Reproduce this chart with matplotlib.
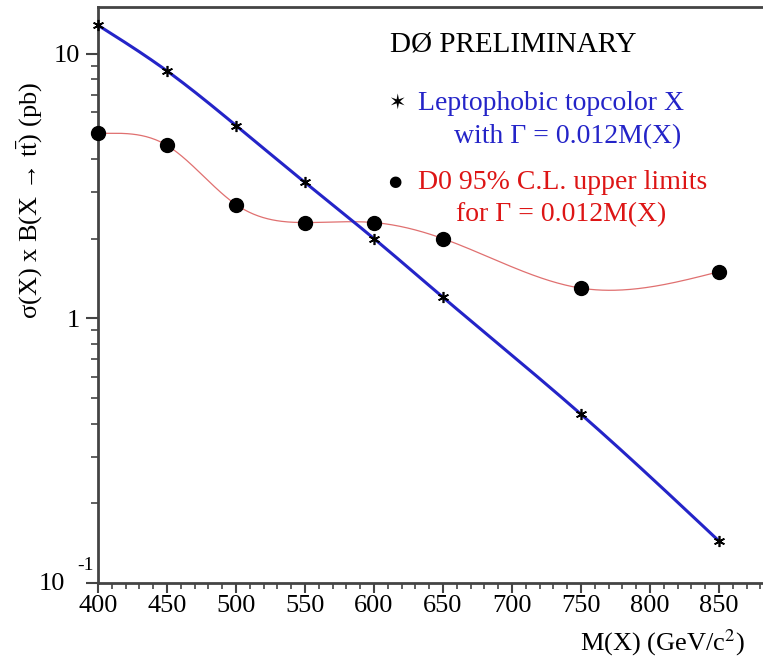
import matplotlib
matplotlib.use("Agg")
import matplotlib.pyplot as plt
import numpy as np
from matplotlib.ticker import FixedLocator, MultipleLocator, NullFormatter

plt.rcParams['font.family'] = ['Liberation Serif', 'DejaVu Serif']
plt.rcParams['mathtext.fontset'] = 'stix'

# data
masses = [400, 450, 500, 550, 600, 650, 750, 850]
topcolor_xsec = [12.8, 8.6, 5.35, 3.26, 2.0, 1.2, 0.434, 0.144]
limit_masses = [400, 450, 500, 550, 600, 650, 750, 850]
limit_xsec = [5.0, 4.5, 2.69, 2.30, 2.30, 2.0, 1.30, 1.50]
ytick_vals = [0.1, 1, 10]
ytick_labels = ['', '1', '10']

BLUE = '#2424c8'
RED = '#dd1515'


def spline(x, y, n=400, start_slope=None):
	# cubic spline (natural, optionally clamped at the start) in log space
	x = np.asarray(x, float)
	y = np.log10(np.asarray(y, float))
	m = len(x)
	h = np.diff(x)
	A = np.zeros((m, m))
	b = np.zeros(m)
	if start_slope is None:
		A[0, 0] = 1
	else:
		A[0, 0] = 2*h[0]
		A[0, 1] = h[0]
		b[0] = 6*((y[1]-y[0])/h[0] - start_slope)
	A[-1, -1] = 1
	for i in range(1, m-1):
		A[i, i-1] = h[i-1]
		A[i, i] = 2*(h[i-1]+h[i])
		A[i, i+1] = h[i]
		b[i] = 6*((y[i+1]-y[i])/h[i] - (y[i]-y[i-1])/h[i-1])
	M = np.linalg.solve(A, b)
	xs = np.linspace(x[0], x[-1], n)
	idx = np.clip(np.searchsorted(x, xs) - 1, 0, m-2)
	x0, x1 = x[idx], x[idx+1]
	hh = x1 - x0
	t0 = x1 - xs
	t1 = xs - x0
	ys = (M[idx]*t0**3 + M[idx+1]*t1**3)/(6*hh) \
		+ (y[idx]/hh - M[idx]*hh/6)*t0 + (y[idx+1]/hh - M[idx+1]*hh/6)*t1
	return xs, 10**ys


W, H = 763, 657
fig = plt.figure(figsize=(W/100, H/100), dpi=100, facecolor='white')
ax = fig.add_axes([98/W, (H-583)/H, 690/W, 576/H])

ax.set_yscale('log')
ax.set_xlim(400, 900)
ax.set_ylim(0.1, 15)

xs, ys = spline(limit_masses, limit_xsec, start_slope=0.0)
ax.plot(xs, ys, color='#e07070', lw=0.9, zorder=2)
ax.plot(limit_masses, limit_xsec, 'o', color='black', ms=10, zorder=4, clip_on=False)

xs, ys = spline(masses, topcolor_xsec)
ax.plot(xs, ys, color=BLUE, lw=2.2, zorder=3)
ax.plot(masses, topcolor_xsec, marker=(6, 2, 0), ls='none', color='black', ms=8, mew=1.2, zorder=5, clip_on=False)

# axes frame and ticks
for side in ['left', 'bottom', 'top', 'right']:
	ax.spines[side].set_color('#444444')
	ax.spines[side].set_linewidth(2)
ax.xaxis.set_minor_locator(MultipleLocator(10))
ax.set_xticks([400, 450, 500, 550, 600, 650, 700, 750, 800, 850])
ax.yaxis.set_major_locator(FixedLocator(ytick_vals))
ax.set_yticklabels(ytick_labels)
ax.yaxis.set_minor_formatter(NullFormatter())
ax.tick_params(which='major', direction='out', length=9, width=1.5, color='#444444', labelsize=19, pad=4)
ax.tick_params(which='minor', direction='out', length=5, width=1.2, color='#444444')
ax.tick_params(axis='x', which='major', length=7, pad=2)
ax.tick_params(axis='x', which='minor', length=4)
ax.tick_params(top=False, right=False, which='both')

# odd 10^-1 label layout of the original
fig.text(52/W, 1-584/H, '10', fontsize=19, ha='center', va='center')
fig.text(85/W, 1-565/H, '-1', fontsize=14, ha='center', va='center')

fig.text(745/W, 1-643/H, r'M(X) (GeV/c$^2$)', fontsize=19, ha='right', va='center')
fig.text(30/W, 1-200/H, 'σ(X) x B(X → t$\\bar{\\mathrm{t}}$) (pb)', fontsize=19,
	rotation=90, ha='center', va='center')

# annotations
fig.text(390/W, 1-45/H, 'DØ PRELIMINARY', fontsize=21, va='center', ha='left')
fig.text(397/W, 1-103/H, '\u2736', fontsize=15, va='center', ha='center', family='DejaVu Sans')
fig.text(418/W, 1-103/H, 'Leptophobic topcolor X', fontsize=20, color=BLUE, va='center')
fig.text(681/W, 1-137/H, 'with Γ = 0.012M(X)', fontsize=20, color=BLUE, va='center', ha='right')
fig.text(395/W, 1-182/H, '\u25cf', fontsize=11, va='center', ha='center', family='DejaVu Sans')
fig.text(418/W, 1-183/H, 'D0 95% C.L. upper limits', fontsize=20, color=RED, va='center')
fig.text(666/W, 1-215/H, 'for Γ = 0.012M(X)', fontsize=20, color=RED, va='center', ha='right')

fig.savefig('out.png', dpi=100)
